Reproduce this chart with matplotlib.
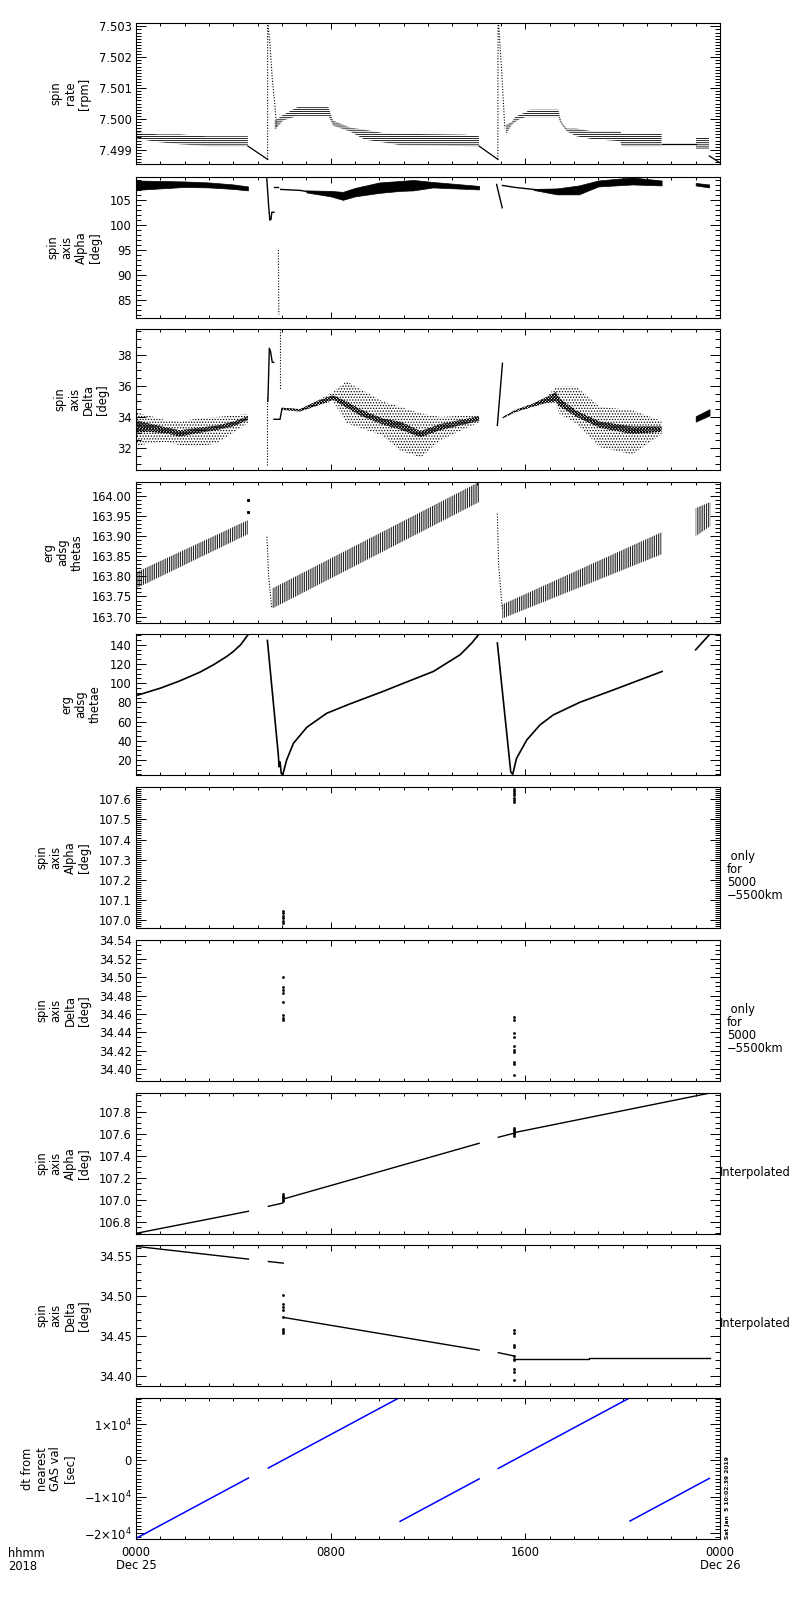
import matplotlib
matplotlib.use("Agg")
import matplotlib.pyplot as plt
from matplotlib.ticker import FixedLocator, MultipleLocator, FormatStrFormatter, NullFormatter

# ---- data (time in hours from 0000 Dec 25) ----

# spin rate [rpm]: quantised bands given as lower/upper envelopes
rate_band1_t = [0.0, 0.9, 1.8, 2.9, 4.6]
rate_band1_hi = [7.49957, 7.49950, 7.49950, 7.49944, 7.49944]
rate_band1_lo = [7.49937, 7.49925, 7.49918, 7.49912, 7.49912]
rate_ramp1_t = [4.6, 5.41]
rate_ramp1_v = [7.49912, 7.49869]
rate_spike1_t = [5.41, 5.41, 5.42, 5.5, 5.6, 5.7, 5.78]
rate_spike1_v = [7.49869, 7.50311, 7.5031, 7.5025, 7.5013, 7.5005, 7.4997]
rate_band2_t = [5.7, 6.05, 6.65, 7.9, 8.1, 8.8, 9.4, 10.1, 10.85, 13.5, 14.1]
rate_band2_hi = [7.49995, 7.50013, 7.50039, 7.50039, 7.49995, 7.49972, 7.49965, 7.49955, 7.49952, 7.49949, 7.49944]
rate_band2_lo = [7.49965, 7.49995, 7.50010, 7.50010, 7.49978, 7.49959, 7.49933, 7.49925, 7.49915, 7.49912, 7.49912]
rate_ramp2_t = [14.1, 14.87]
rate_ramp2_v = [7.49912, 7.49869]
rate_spike2_t = [14.87, 14.88, 14.9, 14.95, 15.03, 15.1, 15.16]
rate_spike2_v = [7.49869, 7.50311, 7.5031, 7.5025, 7.5015, 7.5005, 7.4997]
rate_band3_t = [15.2, 15.44, 15.58, 15.78, 16.0, 16.2, 17.36, 17.43, 17.5, 17.7, 18.1, 18.73, 19.9, 19.96, 21.6]
rate_band3_hi = [7.49981, 7.49990, 7.50006, 7.50014, 7.50021, 7.50030, 7.50030, 7.50006, 7.49989, 7.49969,
                 7.49969, 7.49960, 7.49960, 7.49952, 7.49952]
rate_band3_lo = [7.49949, 7.49981, 7.49990, 7.50000, 7.50006, 7.50006, 7.50006, 7.49989, 7.49981, 7.49960,
                 7.49944, 7.49935, 7.49928, 7.49912, 7.49912]
rate_flat_t = [21.6, 23.0]
rate_flat_v = [7.49919, 7.49919]
rate_band4_t = [23.0, 23.56]
rate_band4_hi = [7.49939, 7.49939]
rate_band4_lo = [7.49901, 7.49901]
rate_ramp3_t = [23.56, 24.0]
rate_ramp3_v = [7.49880, 7.49858]

# spin axis alpha [deg]
alpha_band1_t = [0.0, 1.0, 2.0, 3.0, 4.0, 4.6]
alpha_band1_hi = [109.0, 108.9, 108.8, 108.6, 108.2, 107.8]
alpha_band1_lo = [107.1, 107.4, 107.7, 107.6, 107.3, 107.0]
alpha_spike1_t = [5.37, 5.45, 5.50, 5.55, 5.58, 5.67]
alpha_spike1_v = [109.7, 104.0, 101.0, 101.2, 102.6, 102.6]
alpha_drop_t = [5.85, 5.87]
alpha_drop_v = [95.0, 82.0]
alpha_dash_t = [5.67, 5.85]
alpha_dash_v = [107.6, 107.6]
alpha_line2_t = [5.95, 6.74, 7.0]
alpha_line2_v = [107.2, 107.0, 106.8]
alpha_band2_t = [7.0, 8.0, 8.5, 9.0, 10.0, 10.85, 11.4, 12.2, 14.1]
alpha_band2_hi = [107.0, 106.9, 106.7, 107.5, 108.6, 108.9, 109.1, 108.7, 107.9]
alpha_band2_lo = [106.6, 105.8, 105.1, 105.8, 106.5, 106.9, 107.0, 107.6, 107.2]
alpha_spike2_t = [14.82, 15.05]
alpha_spike2_v = [108.2, 103.5]
alpha_line3_t = [15.06, 15.58, 16.33, 17.3]
alpha_line3_v = [108.0, 107.6, 107.2, 106.8]
alpha_band3_t = [16.33, 17.3, 18.2, 19.0, 20.4, 21.6]
alpha_band3_hi = [107.3, 107.4, 108.0, 109.0, 109.6, 109.0]
alpha_band3_lo = [107.1, 106.2, 106.2, 107.8, 108.2, 108.0]
alpha_band4_t = [23.0, 23.55]
alpha_band4_hi = [108.5, 108.2]
alpha_band4_lo = [108.0, 107.6]

# spin axis delta [deg]: dense core and scattered envelope
delta_band1_t = [0.0, 0.5, 1.2, 1.8, 2.5, 3.3, 4.0, 4.6]
delta_core1_hi = [33.8, 33.6, 33.35, 33.15, 33.3, 33.45, 33.7, 34.05]
delta_core1_lo = [33.0, 33.05, 32.95, 32.75, 32.95, 33.15, 33.4, 33.8]
delta_scat1_hi = [34.3, 34.1, 33.8, 33.7, 33.9, 34.0, 34.1, 34.2]
delta_scat1_lo = [32.1, 32.3, 32.4, 32.2, 32.1, 32.3, 33.0, 33.6]
delta_dot1_t = [5.40, 5.40]
delta_dot1_v = [30.9, 35.3]
delta_spike1_t = [5.42, 5.48, 5.53, 5.6, 5.66]
delta_spike1_v = [35.0, 38.4, 38.2, 37.5, 37.5]
delta_dot2_t = [5.9, 5.9]
delta_dot2_v = [39.64, 35.7]
delta_dash_t = [5.67, 5.85, 5.92, 6.0]
delta_dash_v = [33.85, 33.85, 33.85, 34.54]
delta_band2_t = [6.0, 6.74, 7.4, 8.1, 8.65, 9.2, 10.15, 10.85, 11.7, 12.5, 14.1]
delta_core2_hi = [34.6, 34.5, 35.0, 35.4, 35.0, 34.5, 33.9, 33.7, 33.1, 33.55, 34.05]
delta_core2_lo = [34.45, 34.35, 34.7, 35.1, 34.6, 34.1, 33.5, 33.2, 32.7, 33.15, 33.75]
delta_scat2_hi = [34.6, 34.5, 35.0, 35.6, 36.3, 35.8, 35.0, 34.65, 34.24, 34.0, 34.15]
delta_scat2_lo = [34.45, 34.35, 34.7, 35.0, 33.6, 33.3, 32.8, 31.85, 31.4, 32.5, 33.65]
delta_spike2_t = [14.85, 15.06]
delta_spike2_v = [33.46, 37.44]
delta_band3_t = [15.07, 15.58, 16.3, 16.85, 17.26, 17.4, 18.1, 19.07, 20.4, 21.6]
delta_core3_hi = [34.0, 34.45, 34.85, 35.25, 35.6, 35.2, 34.4, 33.7, 33.4, 33.4]
delta_core3_lo = [33.9, 34.3, 34.65, 34.9, 35.0, 34.7, 34.0, 33.3, 32.9, 33.05]
delta_scat3_hi = [34.0, 34.45, 34.85, 35.3, 35.9, 35.94, 35.94, 34.65, 34.43, 33.75]
delta_scat3_lo = [33.9, 34.3, 34.65, 34.86, 34.9, 34.2, 33.57, 32.06, 31.6, 32.9]
delta_blob_t = [23.0, 23.57]
delta_blob_hi = [34.05, 34.5]
delta_blob_lo = [33.7, 34.1]

# erg adsg thetas
thetas_band1_t = [0.0, 4.6]
thetas_band1_hi = [163.81, 163.94]
thetas_band1_lo = [163.77, 163.905]
thetas_dots1_t = [4.6, 4.6]
thetas_dots1_v = [163.96, 163.989]
thetas_drop1_t = [5.38, 5.45, 5.58]
thetas_drop1_v = [163.899, 163.80, 163.72]
thetas_band2_t = [5.6, 14.1]
thetas_band2_hi = [163.77, 164.035]
thetas_band2_lo = [163.72, 163.985]
thetas_drop2_t = [14.85, 14.9, 15.05]
thetas_drop2_v = [163.956, 163.831, 163.72]
thetas_band3_t = [15.05, 21.6]
thetas_band3_hi = [163.73, 163.91]
thetas_band3_lo = [163.695, 163.855]
thetas_band4_t = [23.0, 23.6]
thetas_band4_hi = [163.97, 163.985]
thetas_band4_lo = [163.90, 163.925]

# erg adsg thetae
thetae_seg1_t = [0.0, 1.0, 1.8, 2.63, 3.18, 3.73, 4.0, 4.3, 4.62]
thetae_seg1_v = [87.0, 94.8, 102.4, 111.5, 119.1, 127.8, 133.0, 140.0, 151.0]
thetae_seg2_t = [5.40, 5.85, 5.88, 5.92, 5.97, 6.03]
thetae_seg2_v = [144.5, 25.0, 13.0, 18.0, 6.0, 4.5]
thetae_seg3_t = [6.03, 6.19, 6.47, 7.02, 7.84, 8.8, 10.16, 10.85, 12.22, 13.32, 13.8, 14.07]
thetae_seg3_v = [4.5, 20.0, 37.4, 54.1, 68.7, 78.5, 91.5, 98.5, 112.2, 129.6, 141.8, 150.4]
thetae_seg4_t = [14.85, 15.4, 15.48, 15.64, 16.06, 16.6, 17.15, 18.25, 19.62, 21.62]
thetae_seg4_v = [141.8, 7.8, 5.1, 21.8, 40.9, 56.5, 67.0, 80.2, 93.0, 112.2]
thetae_seg5_t = [23.0, 23.56]
thetae_seg5_v = [134.8, 150.4]

# GAS samples (5000-5500 km only)
gas1_t = 6.05
gas2_t = 15.54
alpha_gas1 = [107.048, 107.037, 107.023, 107.012, 106.999, 106.987]
alpha_gas2 = [107.650, 107.638, 107.631, 107.619, 107.606, 107.597, 107.584]
delta_gas1 = [34.5006, 34.4898, 34.4862, 34.4826, 34.4735, 34.459, 34.4555, 34.4536]
delta_gas2 = [34.457, 34.4536, 34.439, 34.4354, 34.4246, 34.421, 34.419, 34.408, 34.405, 34.394]

# interpolated alpha / delta
alpha_i_segs = [([0.0, 4.62], [106.694, 106.895]),
                ([5.44, 6.03], [106.94, 106.97]),
                ([6.05, 14.1], [107.006, 107.514]),
                ([14.89, 15.54], [107.569, 107.606]),
                ([15.54, 24.0], [107.611, 107.99])]
delta_i_segs = [([0.0, 4.62], [34.562, 34.546]),
                ([5.44, 6.05], [34.543, 34.541]),
                ([6.05, 14.1], [34.473, 34.432]),
                ([14.89, 15.54], [34.4288, 34.4246]),
                ([15.54, 18.6, 18.6, 23.6], [34.4205, 34.4205, 34.4217, 34.4217])]

# dt from nearest GAS value [sec]
dt_segs = [([0.0, 4.62], [-21487, -4850]),
           ([5.44, 10.8], [-2090, 17190]),
           ([10.85, 14.1], [-16800, -5100]),
           ([14.89, 20.28], [-2200, 17190]),
           ([20.3, 23.56], [-16700, -4960])]

# ---- figure ----
plt.rcParams['font.family'] = ['DejaVu Sans']
plt.rcParams['font.size'] = 8
plt.rcParams['hatch.linewidth'] = 0.6
plt.rcParams['hatch.color'] = 'black'
plt.rcParams['axes.linewidth'] = 0.8

fig = plt.figure(figsize=(8, 16), dpi=100)
panel_top_px = [23, 177, 329, 482, 634, 787, 940, 1093, 1245, 1398]
axes = []
for top in panel_top_px:
    axes.append(fig.add_axes([136 / 800, 1 - (top + 141) / 1600, 584 / 800, 141 / 1600]))

DOT = (0, (1, 1.5))


def setup(ax, ylim, major, minor, fmt, label):
    ax.set_xlim(0, 24)
    ax.set_ylim(*ylim)
    ax.xaxis.set_major_locator(FixedLocator([0, 8, 16, 24]))
    ax.xaxis.set_minor_locator(MultipleLocator(1))
    ax.xaxis.set_major_formatter(NullFormatter())
    ax.yaxis.set_major_locator(MultipleLocator(major))
    ax.yaxis.set_minor_locator(MultipleLocator(minor))
    if fmt:
        ax.yaxis.set_major_formatter(FormatStrFormatter(fmt))
    ax.tick_params(axis='x', which='major', direction='in', length=4.5, width=0.7, top=True, bottom=True)
    ax.tick_params(axis='x', which='minor', direction='in', length=2.5, width=0.7, top=True, bottom=True)
    ax.tick_params(axis='y', which='major', direction='in', length=7.5, width=0.7, left=True, right=True,
                   pad=3, labelsize=8.3)
    ax.tick_params(axis='y', which='minor', direction='in', length=3.8, width=0.7, left=True, right=True)
    ax.set_ylabel(label, linespacing=1.1, labelpad=6, fontsize=8.3)


def band(ax, t, lo, hi, hatch=None):
    if hatch is None:
        ax.fill_between(t, lo, hi, color='black', linewidth=0.5)
    else:
        ax.fill_between(t, lo, hi, facecolor='none', edgecolor='black', hatch=hatch, linewidth=0)


# panel 1: spin rate
ax = axes[0]
setup(ax, (7.49854, 7.50311), 0.001, 0.0001, '%.3f', 'spin\nrate\n[rpm]')
for t, lo, hi in [(rate_band1_t, rate_band1_lo, rate_band1_hi),
                  (rate_band2_t, rate_band2_lo, rate_band2_hi),
                  (rate_band3_t, rate_band3_lo, rate_band3_hi),
                  (rate_band4_t, rate_band4_lo, rate_band4_hi)]:
    band(ax, t, lo, hi, hatch='--------')
for t, v in [(rate_ramp1_t, rate_ramp1_v), (rate_ramp2_t, rate_ramp2_v),
             (rate_flat_t, rate_flat_v), (rate_ramp3_t, rate_ramp3_v)]:
    ax.plot(t, v, color='black', lw=0.9)
for t, v in [(rate_spike1_t, rate_spike1_v), (rate_spike2_t, rate_spike2_v)]:
    ax.plot(t, v, color='black', lw=0.8, ls=DOT)

# panel 2: spin axis alpha
ax = axes[1]
setup(ax, (81.3, 109.7), 5, 1, None, 'spin\naxis\nAlpha\n[deg]')
for t, lo, hi in [(alpha_band1_t, alpha_band1_lo, alpha_band1_hi),
                  (alpha_band2_t, alpha_band2_lo, alpha_band2_hi),
                  (alpha_band3_t, alpha_band3_lo, alpha_band3_hi),
                  (alpha_band4_t, alpha_band4_lo, alpha_band4_hi)]:
    band(ax, t, lo, hi)
for t, v in [(alpha_spike1_t, alpha_spike1_v), (alpha_dash_t, alpha_dash_v), (alpha_line2_t, alpha_line2_v),
             (alpha_spike2_t, alpha_spike2_v), (alpha_line3_t, alpha_line3_v)]:
    ax.plot(t, v, color='black', lw=1.0)
ax.plot(alpha_drop_t, alpha_drop_v, color='black', lw=0.8, ls=DOT)

# panel 3: spin axis delta
ax = axes[2]
setup(ax, (30.6, 39.64), 2, 0.5, None, 'spin\naxis\nDelta\n[deg]')
for t, lo, hi in [(delta_band1_t, delta_scat1_lo, delta_scat1_hi),
                  (delta_band2_t, delta_scat2_lo, delta_scat2_hi),
                  (delta_band3_t, delta_scat3_lo, delta_scat3_hi)]:
    band(ax, t, lo, hi, hatch='......')
for t, lo, hi in [(delta_band1_t, delta_core1_lo, delta_core1_hi),
                  (delta_band2_t, delta_core2_lo, delta_core2_hi),
                  (delta_band3_t, delta_core3_lo, delta_core3_hi)]:
    band(ax, t, lo, hi, hatch='xxxxxxxxxxx')
band(ax, delta_blob_t, delta_blob_lo, delta_blob_hi)
for t, v in [(delta_spike1_t, delta_spike1_v), (delta_dash_t, delta_dash_v), (delta_spike2_t, delta_spike2_v)]:
    ax.plot(t, v, color='black', lw=1.0)
for t, v in [(delta_dot1_t, delta_dot1_v), (delta_dot2_t, delta_dot2_v)]:
    ax.plot(t, v, color='black', lw=0.8, ls=DOT)

# panel 4: erg adsg thetas
ax = axes[3]
setup(ax, (163.684, 164.035), 0.05, 0.01, '%.2f', 'erg\nadsg\nthetas')
for t, lo, hi in [(thetas_band1_t, thetas_band1_lo, thetas_band1_hi),
                  (thetas_band2_t, thetas_band2_lo, thetas_band2_hi),
                  (thetas_band3_t, thetas_band3_lo, thetas_band3_hi),
                  (thetas_band4_t, thetas_band4_lo, thetas_band4_hi)]:
    band(ax, t, lo, hi, hatch='|||||||||')
ax.plot(thetas_dots1_t, thetas_dots1_v, 's', color='black', ms=1.2)
for t, v in [(thetas_drop1_t, thetas_drop1_v), (thetas_drop2_t, thetas_drop2_v)]:
    ax.plot(t, v, color='black', lw=0.8, ls=DOT)

# panel 5: erg adsg thetae
ax = axes[4]
setup(ax, (4.4, 151.2), 20, 5, None, 'erg\nadsg\nthetae')
for t, v in [(thetae_seg1_t, thetae_seg1_v), (thetae_seg2_t, thetae_seg2_v), (thetae_seg3_t, thetae_seg3_v),
             (thetae_seg4_t, thetae_seg4_v), (thetae_seg5_t, thetae_seg5_v)]:
    ax.plot(t, v, color='black', lw=1.2)

# panels 6 and 7: GAS values only
ax = axes[5]
setup(ax, (106.962, 107.66), 0.1, 0.01, '%.1f', 'spin\naxis\nAlpha\n[deg]')
ax.plot([gas1_t] * len(alpha_gas1), alpha_gas1, 's', color='black', ms=0.9)
ax.plot([gas2_t] * len(alpha_gas2), alpha_gas2, 's', color='black', ms=0.9)
ax.text(1.012, 0.555, ' only\nfor\n5000\n\u22125500km', transform=ax.transAxes, ha='left', va='top',
        linespacing=1.0, fontsize=8.3)

ax = axes[6]
setup(ax, (34.387, 34.5405), 0.02, 0.005, '%.2f', 'spin\naxis\nDelta\n[deg]')
ax.plot([gas1_t] * len(delta_gas1), delta_gas1, 's', color='black', ms=0.9)
ax.plot([gas2_t] * len(delta_gas2), delta_gas2, 's', color='black', ms=0.9)
ax.text(1.012, 0.555, ' only\nfor\n5000\n\u22125500km', transform=ax.transAxes, ha='left', va='top',
        linespacing=1.0, fontsize=8.3)

# panels 8 and 9: interpolated
ax = axes[7]
setup(ax, (106.688, 107.972), 0.2, 0.05, '%.1f', 'spin\naxis\nAlpha\n[deg]')
for t, v in alpha_i_segs:
    ax.plot(t, v, color='black', lw=1.0)
ax.plot([gas1_t] * len(alpha_gas1), alpha_gas1, 's', color='black', ms=0.9)
ax.plot([gas2_t] * len(alpha_gas2), alpha_gas2, 's', color='black', ms=0.9)
ax.text(1.0, 0.435, 'Interpolated', transform=ax.transAxes, ha='left', va='center', fontsize=8.3)

ax = axes[8]
setup(ax, (34.387, 34.5637), 0.05, 0.01, '%.2f', 'spin\naxis\nDelta\n[deg]')
for t, v in delta_i_segs:
    ax.plot(t, v, color='black', lw=1.0)
ax.plot([gas1_t] * len(delta_gas1), delta_gas1, 's', color='black', ms=0.9)
ax.plot([gas2_t] * len(delta_gas2), delta_gas2, 's', color='black', ms=0.9)
ax.text(1.0, 0.44, 'Interpolated', transform=ax.transAxes, ha='left', va='center', fontsize=8.3)

# panel 10: dt from nearest GAS value
ax = axes[9]
setup(ax, (-21650, 17190), 10000, 1000, None, 'dt from\nnearest\nGAS val\n[sec]')
ax.yaxis.set_major_locator(FixedLocator([-20000, -10000, 0, 10000]))
ax.set_yticklabels(['\u22122$\\times$10$^4$', '\u22121$\\times$10$^4$', '0', '1$\\times$10$^4$'])
for t, v in dt_segs:
    ax.plot(t, v, color='#0000ff', lw=1.1)
ax.set_xticklabels(['0000\nDec 25', '0800', '1600', '0000\nDec 26'])
ax.tick_params(axis='x', which='major', pad=5, labelsize=8.3)
for lab in ax.get_xticklabels():
    lab.set_linespacing(1.0)
ax.text(1.012, 0.0, 'Sat Jan  5 10:02:39 2019', transform=ax.transAxes, rotation=90,
        ha='center', va='bottom', fontsize=4.3, fontweight='bold')

fig.text(8 / 800, 1 - 1547 / 1600, 'hhmm\n2018', ha='left', va='top', fontsize=8.3, linespacing=1.0)

fig.savefig('out.png', dpi=100)
